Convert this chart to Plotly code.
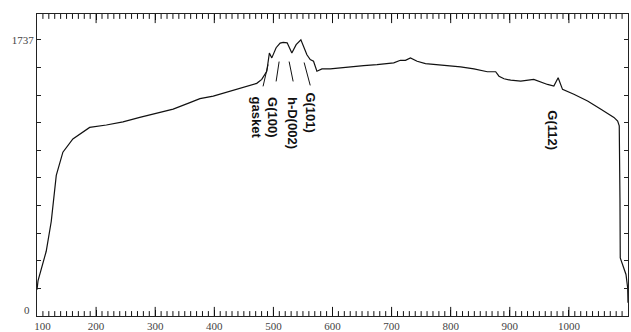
import plotly.graph_objects as go

# Spectrum trace (channel vs counts)
channel = [100, 101.7, 115.6, 124.1, 132.6, 143.8, 160.7, 189.1, 217.4, 245.5,
           273.9, 302.2, 330.4, 358.7, 375.7, 398.2, 426.5, 454.9, 471.8, 480.3,
           488.8, 493.2, 497.3, 504.6, 511.4, 516.5, 523.3, 531.2, 538.5, 546.5,
           552.0, 556.7, 562.3, 567.9, 573.6, 582.1, 596.2, 618.8, 652.7, 675.4,
           703.6, 714.9, 723.4, 731.9, 743.2, 757.3, 788.4, 816.7, 839.3, 850.6,
           862.0, 876.1, 881.7, 890.2, 901.5, 918.5, 940.5, 963.8, 974.5, 981.8,
           989.2, 1008.4, 1031.6, 1054.2, 1076.2, 1082.5, 1085.2, 1086.4, 1086.9,
           1096.6, 1099.4, 1100]
counts = [165, 221, 407, 594, 884, 1030, 1113, 1186, 1201, 1221,
          1249, 1276, 1301, 1342, 1367, 1383, 1415, 1446, 1463, 1488,
          1539, 1654, 1623, 1687, 1716, 1720, 1718, 1654, 1706, 1737,
          1687, 1643, 1612, 1602, 1539, 1554, 1554, 1564, 1575, 1581,
          1592, 1608, 1608, 1623, 1602, 1587, 1577, 1567, 1554, 1544,
          1536, 1536, 1508, 1492, 1483, 1477, 1488, 1456, 1446, 1498,
          1425, 1394, 1352, 1300, 1249, 1226, 1196, 739, 365,
          261, 178, 84]

x_tick_vals = [100, 200, 300, 400, 500, 600, 700, 800, 900, 1000, 1100]
x_tick_text = ["\u2007\u2007100", "200", "300", "400", "500", "600", "700", "800", "900", "1000", "1100"]
x_minor_vals = [v for v in range(110, 1100, 10) if v % 100 != 0]
y_lo, y_hi = 0, 1899
y_max_label = 1737
y_tick_vals = [round(y_max_label * i / 10, 1) for i in range(11)]
y_tick_text = [""] * 10 + ["1737"]
y_zero_label = "0"

peak_labels = ["gasket", "G(100)", "h-D(002)", "G(101)", "G(112)"]
peak_label_x = [470.7, 499.5, 532.6, 562.3, 972.8]
peak_label_y = [1247, 1250, 1216, 1279, 1169]
leader_x0 = [482.5, 504.6, 533.4, 562.3]
leader_y0 = [1444, 1475, 1475, 1450]
leader_x1 = [491.0, 509.7, 526.6, 552.0]
leader_y1 = [1581, 1600, 1600, 1594]

fig = go.Figure()
fig.add_trace(go.Scatter(x=channel, y=counts, mode="lines",
                         line=dict(color="#111111", width=1.2),
                         hoverinfo="skip", showlegend=False))

# inward tick marks on bottom and top frame (markers centred on the frame, clipped to the plot area)
major_inner = x_tick_vals[1:-1]
for vals, size in ((major_inner, 13), (x_minor_vals, 7)):
    for yv in (y_lo, y_hi):
        fig.add_trace(go.Scatter(x=vals, y=[yv] * len(vals), mode="markers",
                                 marker=dict(symbol="line-ns-open", size=size, color="#111111",
                                             line=dict(color="#111111", width=1)),
                                 cliponaxis=True, hoverinfo="skip", showlegend=False))

for t, xx, yy in zip(peak_labels, peak_label_x, peak_label_y):
    fig.add_annotation(x=xx, y=yy, xref="x", yref="y", text="<b>" + t + "</b>",
                       textangle=90, showarrow=False,
                       font=dict(family="Liberation Sans", size=13, color="#111111"))

for a, b, c, d in zip(leader_x0, leader_y0, leader_x1, leader_y1):
    fig.add_shape(type="line", x0=a, y0=b, x1=c, y1=d, xref="x", yref="y",
                  line=dict(color="#111111", width=1))

fig.add_annotation(x=0, y=0, xref="paper", yref="y", text=y_zero_label,
                   xanchor="right", yanchor="middle", xshift=-5, yshift=6,
                   showarrow=False,
                   font=dict(family="Liberation Serif", size=11, color="#444444"))

fig.update_layout(
    width=631, height=332,
    margin=dict(l=37, r=3, t=14, b=16),
    paper_bgcolor="white", plot_bgcolor="white",
    showlegend=False,
    xaxis=dict(range=[100, 1100], tickmode="array", tickvals=x_tick_vals, ticktext=x_tick_text,
               ticks="inside", ticklen=6, tickwidth=1, tickcolor="#111111",
               showline=True, linecolor="#222222", linewidth=1, mirror="allticks",
               showgrid=False, zeroline=False,
               tickfont=dict(family="Liberation Serif", size=11, color="#444444"),
               automargin=False),
    yaxis=dict(range=[y_lo, y_hi], tickmode="array", tickvals=y_tick_vals, ticktext=y_tick_text,
               ticks="inside", ticklen=4, tickwidth=1, tickcolor="#222222",
               showline=True, linecolor="#222222", linewidth=1, mirror="allticks",
               showgrid=False, zeroline=False,
               tickfont=dict(family="Liberation Serif", size=11, color="#444444"),
               automargin=False),
)

fig.write_html("out.html")
